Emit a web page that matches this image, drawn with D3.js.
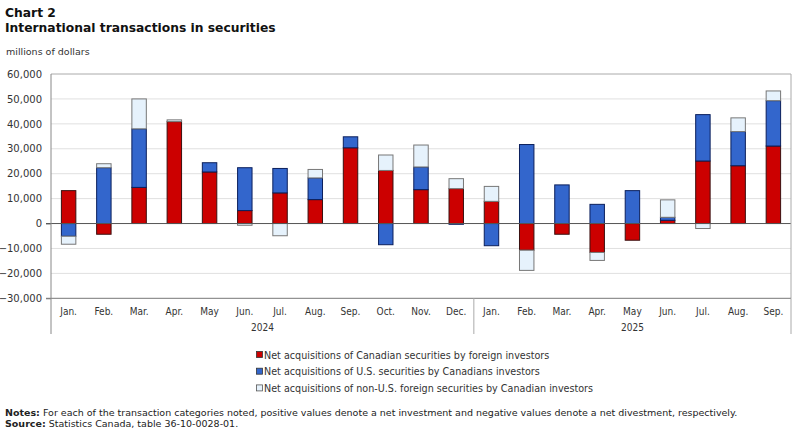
<!DOCTYPE html>
<html>
<head>
<meta charset="utf-8">
<script src="https://cdn.jsdelivr.net/npm/d3@7"></script>
<style>
  body { margin: 0; background: #fff; }
  svg text { font-family: "DejaVu Sans", Verdana, sans-serif; }
</style>
</head>
<body>
<svg id="chart" width="800" height="434"></svg>
<script>
// data (millions of dollars)
const months = ["Jan.", "Feb.", "Mar.", "Apr.", "May", "Jun.", "Jul.", "Aug.", "Sep.", "Oct.", "Nov.", "Dec.",
                "Jan.", "Feb.", "Mar.", "Apr.", "May", "Jun.", "Jul.", "Aug.", "Sep."];
const years = [{ label: "2024", start: 0, end: 12 }, { label: "2025", start: 12, end: 21 }];
const canadian = [13200, -4300, 14500, 40900, 20700, 5200, 12300, 9600, 30400, 21300, 13600, 14000,
                  8900, -10700, -4300, -11600, -6700, 1300, 25100, 23200, 31100];
const usSec = [-5100, 22400, 23500, 0, 3700, 17200, 9800, 8700, 4400, -8500, 9100, -300,
               -8900, 31700, 15500, 7700, 13200, 1200, 18600, 13700, 18200];
const nonUs = [-3200, 1600, 12000, 700, 0, -700, -4900, 3400, 0, 6200, 8800, 4000,
               6000, -8100, 0, -3200, 0, 7000, -2000, 5500, 3900];
const yTicks = [-30000, -20000, -10000, 0, 10000, 20000, 30000, 40000, 50000, 60000];

const seriesInfo = [
  { key: "canadian", values: canadian, fill: "#cc0000", stroke: "#3a1010", label: "Net acquisitions of Canadian securities by foreign investors" },
  { key: "us", values: usSec, fill: "#3366cc", stroke: "#0b1f5c", label: "Net acquisitions of U.S. securities by Canadians investors" },
  { key: "nonus", values: nonUs, fill: "#e6f2fc", stroke: "#777", label: "Net acquisitions of non-U.S. foreign securities by Canadian investors" }
];

const svg = d3.select("#chart");
const plotL = 51, plotR = 791, plotT = 74, plotB = 298.3;

const x = d3.scaleBand().domain(d3.range(months.length)).range([plotL, plotR]).paddingInner(0.59).paddingOuter(0.295);
const xb = d3.scaleBand().domain(d3.range(months.length)).range([plotL, plotR]);
const y = d3.scaleLinear().domain([-30000, 60000]).range([plotB, plotT]);

// titles
svg.append("text").attr("x", 5).attr("y", 17).style("font-size", "12.3px").style("font-weight", "bold")
  .attr("fill", "#111").text("Chart 2");
svg.append("text").attr("x", 5).attr("y", 32).style("font-size", "12.3px").style("font-weight", "bold")
  .attr("fill", "#111").text("International transactions in securities");
svg.append("text").attr("x", 6).attr("y", 55).style("font-size", "9.5px").attr("fill", "#333")
  .text("millions of dollars");

// gridlines
svg.append("g").selectAll("line").data(yTicks.filter(t => t !== 0 && t !== 60000 && t !== -30000)).join("line")
  .attr("x1", plotL).attr("x2", plotR)
  .attr("y1", d => y(d)).attr("y2", d => y(d))
  .attr("stroke", "#e0e0e0").attr("stroke-width", 1);

// y axis labels and ticks
const yAxis = svg.append("g").attr("transform", `translate(${plotL},0)`)
  .call(d3.axisLeft(y).tickValues(yTicks).tickSize(5).tickFormat(d3.format(",")));
yAxis.select(".domain").remove();
yAxis.selectAll(".tick line").attr("stroke", "#888").attr("x2", 0).attr("x1", d => d === 0 || d === -30000 ? -5 : 0);
yAxis.selectAll(".tick text").attr("x", -9).style("font-size", "10px").attr("fill", "#333")
  .style("font-family", "'DejaVu Sans', Verdana, sans-serif");

// stacked bars: positives stack up, negatives stack down
const rects = [];
months.forEach((m, i) => {
  let pos = 0, neg = 0;
  seriesInfo.forEach(s => {
    const v = s.values[i];
    if (v === 0) return;
    let y0, y1;
    if (v > 0) { y0 = pos; y1 = pos + v; pos = y1; }
    else { y0 = neg + v; y1 = neg; neg = y0; }
    rects.push({ i, y0, y1, s });
  });
});

svg.append("g").selectAll("rect").data(rects).join("rect")
  .attr("x", d => x(d.i))
  .attr("width", x.bandwidth())
  .attr("y", d => y(d.y1))
  .attr("height", d => Math.max(0.5, y(d.y0) - y(d.y1)))
  .attr("fill", d => d.s.fill)
  .attr("stroke", d => d.s.stroke)
  .attr("stroke-width", 1);

// zero line
svg.append("line").attr("x1", plotL - 5).attr("x2", plotR).attr("y1", y(0)).attr("y2", y(0))
  .attr("stroke", "#555").attr("stroke-width", 1);

// plot frame
svg.append("line").attr("x1", plotL).attr("x2", plotR).attr("y1", plotT).attr("y2", plotT).attr("stroke", "#aaa");
svg.append("line").attr("x1", plotR).attr("x2", plotR).attr("y1", plotT).attr("y2", plotB).attr("stroke", "#aaa");
svg.append("line").attr("x1", plotL - 5).attr("x2", plotR).attr("y1", plotB).attr("y2", plotB).attr("stroke", "#777");
svg.append("line").attr("x1", plotL).attr("x2", plotL).attr("y1", plotT).attr("y2", 334).attr("stroke", "#888");
svg.append("line").attr("x1", plotR).attr("x2", plotR).attr("y1", plotB).attr("y2", 334).attr("stroke", "#aaa");

// month labels
svg.append("g").selectAll("text").data(months).join("text")
  .attr("x", (d, i) => xb(i) + xb.bandwidth() / 2)
  .attr("y", 315)
  .attr("text-anchor", "middle")
  .style("font-family", "'DejaVu Sans Condensed', 'Liberation Sans Narrow', sans-serif")
  .style("font-size", "10px").attr("fill", "#333")
  .text(d => d);

// year dividers and labels
years.forEach(yr => {
  if (yr.start > 0) {
    svg.append("line").attr("x1", xb(yr.start)).attr("x2", xb(yr.start))
      .attr("y1", plotB).attr("y2", 334).attr("stroke", "#aaa");
  }
  const x0 = xb(yr.start), x1 = yr.end < months.length ? xb(yr.end) : plotR;
  svg.append("text").attr("x", (x0 + x1) / 2).attr("y", 331).attr("text-anchor", "middle")
    .style("font-family", "'DejaVu Sans Condensed', 'Liberation Sans Narrow', sans-serif")
    .style("font-size", "10px").attr("fill", "#333").text(yr.label);
});

// legend
const legend = svg.append("g").attr("transform", "translate(256,351)");
seriesInfo.forEach((s, i) => {
  const row = legend.append("g").attr("transform", `translate(0,${i * 16.7})`);
  row.append("rect").attr("x", 0.5).attr("y", 0.5).attr("width", 6).attr("height", 6)
    .attr("fill", s.fill).attr("stroke", s.key === "nonus" ? "#555" : "#333").attr("stroke-width", 0.8);
  row.append("text").attr("x", 8).attr("y", 7.5).style("font-size", "9.6px").attr("fill", "#333").text(s.label);
});

// notes
const notes = svg.append("g").style("font-family", "'DejaVu Sans Condensed', 'Liberation Sans Narrow', sans-serif")
  .style("font-size", "9.5px").attr("fill", "#222");
const n1 = notes.append("text").attr("x", 5).attr("y", 416);
n1.append("tspan").style("font-weight", "bold").text("Notes:");
n1.append("tspan").text(" For each of the transaction categories noted, positive values denote a net investment and negative values denote a net divestment, respectively.");
const n2 = notes.append("text").attr("x", 5).attr("y", 427);
n2.append("tspan").style("font-weight", "bold").text("Source:");
n2.append("tspan").text(" Statistics Canada, table 36-10-0028-01.");
</script>
</body>
</html>
